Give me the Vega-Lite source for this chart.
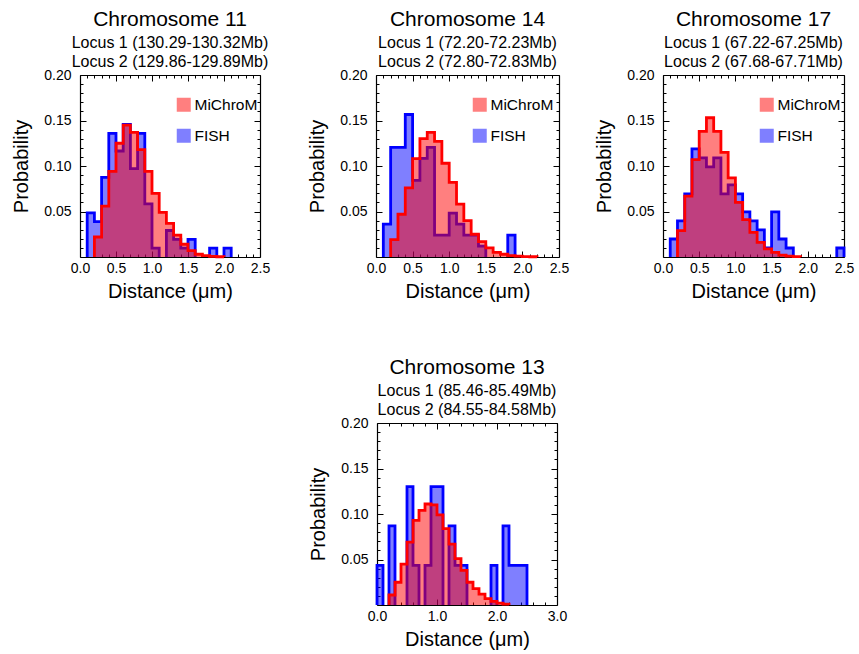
{
  "$schema": "https://vega.github.io/schema/vega-lite/v6.json",
  "padding": {"left": 11, "top": 9, "right": 5, "bottom": 5},
  "background": "white",
  "config": {
    "view": {"stroke": null},
    "font": "Liberation Sans",
    "axis": {
      "grid": false, "domainColor": "#000", "domainWidth": 1.2, "tickColor": "#000", "tickWidth": 1,
      "labelFont": "Liberation Sans", "labelFontSize": 14, "labelColor": "#000", "labelFlush": false, "labelOverlap": false,
      "titleFont": "Liberation Sans", "titleFontSize": 20, "titleFontWeight": "normal", "titleColor": "#000", "zindex": 1
    },
    "axisBottom": {"tickSize": -6, "labelPadding": 10, "titlePadding": 6},
    "axisLeft": {"tickSize": -6, "labelPadding": 15, "titlePadding": 12},
    "axisTop": {"tickSize": -6, "labels": false},
    "axisRight": {"tickSize": -6, "labels": false},
    "legend": {
      "orient": "none", "legendX": 96, "legendY": 22, "title": null, "padding": 0,
      "symbolType": "square", "symbolSize": 196, "symbolOpacity": 0.5, "symbolStrokeWidth": 0,
      "labelFont": "Liberation Sans", "labelFontSize": 15.5, "labelColor": "#000", "labelOffset": 3, "rowPadding": 14
    },
    "title": {
      "font": "Liberation Sans", "fontSize": 21, "fontWeight": "normal", "color": "#000",
      "subtitleFont": "Liberation Sans", "subtitleFontSize": 16, "subtitleColor": "#000",
      "subtitleLineHeight": 19, "subtitlePadding": 5, "offset": -2, "anchor": "middle", "frame": "group"
    }
  },
  "datasets": {
    "chr11": [
      {"s": "FISH", "g": 1, "x": 0.1, "p": 0}, {"s": "FISH", "g": 1, "x": 0.1, "p": 0.0485}, {"s": "FISH", "g": 1, "x": 0.2, "p": 0.0388},
      {"s": "FISH", "g": 1, "x": 0.3, "p": 0.0874}, {"s": "FISH", "g": 1, "x": 0.4, "p": 0.1359}, {"s": "FISH", "g": 1, "x": 0.5, "p": 0.1165},
      {"s": "FISH", "g": 1, "x": 0.6, "p": 0.1456}, {"s": "FISH", "g": 1, "x": 0.7, "p": 0.0971}, {"s": "FISH", "g": 1, "x": 0.8, "p": 0.1359},
      {"s": "FISH", "g": 1, "x": 0.9, "p": 0.0583}, {"s": "FISH", "g": 1, "x": 1.0, "p": 0.0097}, {"s": "FISH", "g": 1, "x": 1.1, "p": 0},
      {"s": "FISH", "g": 2, "x": 1.2, "p": 0}, {"s": "FISH", "g": 2, "x": 1.2, "p": 0.0291}, {"s": "FISH", "g": 2, "x": 1.3, "p": 0.0194},
      {"s": "FISH", "g": 2, "x": 1.4, "p": 0.0097}, {"s": "FISH", "g": 2, "x": 1.5, "p": 0.0194}, {"s": "FISH", "g": 2, "x": 1.6, "p": 0},
      {"s": "FISH", "g": 3, "x": 1.8, "p": 0}, {"s": "FISH", "g": 3, "x": 1.8, "p": 0.0097}, {"s": "FISH", "g": 3, "x": 1.9, "p": 0},
      {"s": "FISH", "g": 4, "x": 2.0, "p": 0}, {"s": "FISH", "g": 4, "x": 2.0, "p": 0.0097}, {"s": "FISH", "g": 4, "x": 2.1, "p": 0},
      {"s": "MiChroM", "g": 1, "x": 0.2, "p": 0}, {"s": "MiChroM", "g": 1, "x": 0.2, "p": 0.022}, {"s": "MiChroM", "g": 1, "x": 0.3, "p": 0.056},
      {"s": "MiChroM", "g": 1, "x": 0.4, "p": 0.094}, {"s": "MiChroM", "g": 1, "x": 0.5, "p": 0.125}, {"s": "MiChroM", "g": 1, "x": 0.6, "p": 0.145},
      {"s": "MiChroM", "g": 1, "x": 0.7, "p": 0.137}, {"s": "MiChroM", "g": 1, "x": 0.8, "p": 0.118}, {"s": "MiChroM", "g": 1, "x": 0.9, "p": 0.094},
      {"s": "MiChroM", "g": 1, "x": 1.0, "p": 0.070}, {"s": "MiChroM", "g": 1, "x": 1.1, "p": 0.049}, {"s": "MiChroM", "g": 1, "x": 1.2, "p": 0.037},
      {"s": "MiChroM", "g": 1, "x": 1.3, "p": 0.024}, {"s": "MiChroM", "g": 1, "x": 1.4, "p": 0.014}, {"s": "MiChroM", "g": 1, "x": 1.5, "p": 0.007},
      {"s": "MiChroM", "g": 1, "x": 1.6, "p": 0.003}, {"s": "MiChroM", "g": 1, "x": 1.7, "p": 0.0015}, {"s": "MiChroM", "g": 1, "x": 1.8, "p": 0.0006},
      {"s": "MiChroM", "g": 1, "x": 1.9, "p": 0.0003}, {"s": "MiChroM", "g": 1, "x": 2.0, "p": 0}
    ],
    "chr14": [
      {"s": "FISH", "g": 1, "x": 0.1, "p": 0}, {"s": "FISH", "g": 1, "x": 0.1, "p": 0.0361}, {"s": "FISH", "g": 1, "x": 0.2, "p": 0.1205},
      {"s": "FISH", "g": 1, "x": 0.3, "p": 0.1205}, {"s": "FISH", "g": 1, "x": 0.4, "p": 0.1566}, {"s": "FISH", "g": 1, "x": 0.5, "p": 0.0843},
      {"s": "FISH", "g": 1, "x": 0.6, "p": 0.1084}, {"s": "FISH", "g": 1, "x": 0.7, "p": 0.1205}, {"s": "FISH", "g": 1, "x": 0.8, "p": 0.0241},
      {"s": "FISH", "g": 1, "x": 0.9, "p": 0.0241}, {"s": "FISH", "g": 1, "x": 1.0, "p": 0.0482}, {"s": "FISH", "g": 1, "x": 1.1, "p": 0.0361},
      {"s": "FISH", "g": 1, "x": 1.2, "p": 0.0241}, {"s": "FISH", "g": 1, "x": 1.3, "p": 0.0241}, {"s": "FISH", "g": 1, "x": 1.4, "p": 0.0120},
      {"s": "FISH", "g": 1, "x": 1.5, "p": 0},
      {"s": "FISH", "g": 2, "x": 1.8, "p": 0}, {"s": "FISH", "g": 2, "x": 1.8, "p": 0.0241}, {"s": "FISH", "g": 2, "x": 1.9, "p": 0},
      {"s": "MiChroM", "g": 1, "x": 0.2, "p": 0}, {"s": "MiChroM", "g": 1, "x": 0.2, "p": 0.019}, {"s": "MiChroM", "g": 1, "x": 0.3, "p": 0.047},
      {"s": "MiChroM", "g": 1, "x": 0.4, "p": 0.076}, {"s": "MiChroM", "g": 1, "x": 0.5, "p": 0.108}, {"s": "MiChroM", "g": 1, "x": 0.6, "p": 0.130},
      {"s": "MiChroM", "g": 1, "x": 0.7, "p": 0.137}, {"s": "MiChroM", "g": 1, "x": 0.8, "p": 0.127}, {"s": "MiChroM", "g": 1, "x": 0.9, "p": 0.103},
      {"s": "MiChroM", "g": 1, "x": 1.0, "p": 0.082}, {"s": "MiChroM", "g": 1, "x": 1.1, "p": 0.058}, {"s": "MiChroM", "g": 1, "x": 1.2, "p": 0.040},
      {"s": "MiChroM", "g": 1, "x": 1.3, "p": 0.025}, {"s": "MiChroM", "g": 1, "x": 1.4, "p": 0.017}, {"s": "MiChroM", "g": 1, "x": 1.5, "p": 0.010},
      {"s": "MiChroM", "g": 1, "x": 1.6, "p": 0.005}, {"s": "MiChroM", "g": 1, "x": 1.7, "p": 0.003}, {"s": "MiChroM", "g": 1, "x": 1.8, "p": 0.0015},
      {"s": "MiChroM", "g": 1, "x": 1.9, "p": 0.001}, {"s": "MiChroM", "g": 1, "x": 2.0, "p": 0.0005}, {"s": "MiChroM", "g": 1, "x": 2.1, "p": 0.0003},
      {"s": "MiChroM", "g": 1, "x": 2.2, "p": 0}
    ],
    "chr17": [
      {"s": "FISH", "g": 1, "x": 0.1, "p": 0}, {"s": "FISH", "g": 1, "x": 0.1, "p": 0.0198}, {"s": "FISH", "g": 1, "x": 0.2, "p": 0.0396},
      {"s": "FISH", "g": 1, "x": 0.3, "p": 0.0693}, {"s": "FISH", "g": 1, "x": 0.4, "p": 0.1188}, {"s": "FISH", "g": 1, "x": 0.5, "p": 0.1089},
      {"s": "FISH", "g": 1, "x": 0.6, "p": 0.0990}, {"s": "FISH", "g": 1, "x": 0.7, "p": 0.1089}, {"s": "FISH", "g": 1, "x": 0.8, "p": 0.0693},
      {"s": "FISH", "g": 1, "x": 0.9, "p": 0.0792}, {"s": "FISH", "g": 1, "x": 1.0, "p": 0.0693}, {"s": "FISH", "g": 1, "x": 1.1, "p": 0.0495},
      {"s": "FISH", "g": 1, "x": 1.2, "p": 0.0396}, {"s": "FISH", "g": 1, "x": 1.3, "p": 0.0297}, {"s": "FISH", "g": 1, "x": 1.4, "p": 0.0099},
      {"s": "FISH", "g": 1, "x": 1.5, "p": 0.0495}, {"s": "FISH", "g": 1, "x": 1.6, "p": 0.0198}, {"s": "FISH", "g": 1, "x": 1.7, "p": 0.0099},
      {"s": "FISH", "g": 1, "x": 1.8, "p": 0},
      {"s": "FISH", "g": 2, "x": 2.4, "p": 0}, {"s": "FISH", "g": 2, "x": 2.4, "p": 0.0099}, {"s": "FISH", "g": 2, "x": 2.5, "p": 0},
      {"s": "MiChroM", "g": 1, "x": 0.2, "p": 0}, {"s": "MiChroM", "g": 1, "x": 0.2, "p": 0.029}, {"s": "MiChroM", "g": 1, "x": 0.3, "p": 0.067},
      {"s": "MiChroM", "g": 1, "x": 0.4, "p": 0.107}, {"s": "MiChroM", "g": 1, "x": 0.5, "p": 0.138}, {"s": "MiChroM", "g": 1, "x": 0.6, "p": 0.153},
      {"s": "MiChroM", "g": 1, "x": 0.7, "p": 0.138}, {"s": "MiChroM", "g": 1, "x": 0.8, "p": 0.115}, {"s": "MiChroM", "g": 1, "x": 0.9, "p": 0.087},
      {"s": "MiChroM", "g": 1, "x": 1.0, "p": 0.060}, {"s": "MiChroM", "g": 1, "x": 1.1, "p": 0.041}, {"s": "MiChroM", "g": 1, "x": 1.2, "p": 0.027},
      {"s": "MiChroM", "g": 1, "x": 1.3, "p": 0.016}, {"s": "MiChroM", "g": 1, "x": 1.4, "p": 0.009}, {"s": "MiChroM", "g": 1, "x": 1.5, "p": 0.005},
      {"s": "MiChroM", "g": 1, "x": 1.6, "p": 0.002}, {"s": "MiChroM", "g": 1, "x": 1.7, "p": 0.001}, {"s": "MiChroM", "g": 1, "x": 1.8, "p": 0.0005},
      {"s": "MiChroM", "g": 1, "x": 1.9, "p": 0}
    ],
    "chr13": [
      {"s": "FISH", "g": 1, "x": 0.0, "p": 0}, {"s": "FISH", "g": 1, "x": 0.0, "p": 0.0435}, {"s": "FISH", "g": 1, "x": 0.1, "p": 0},
      {"s": "FISH", "g": 2, "x": 0.2, "p": 0}, {"s": "FISH", "g": 2, "x": 0.2, "p": 0.087}, {"s": "FISH", "g": 2, "x": 0.3, "p": 0},
      {"s": "FISH", "g": 3, "x": 0.5, "p": 0}, {"s": "FISH", "g": 3, "x": 0.5, "p": 0.130}, {"s": "FISH", "g": 3, "x": 0.6, "p": 0.0435}, {"s": "FISH", "g": 3, "x": 0.7, "p": 0},
      {"s": "FISH", "g": 4, "x": 0.8, "p": 0}, {"s": "FISH", "g": 4, "x": 0.8, "p": 0.0435}, {"s": "FISH", "g": 4, "x": 0.9, "p": 0.130},
      {"s": "FISH", "g": 4, "x": 1.0, "p": 0.130}, {"s": "FISH", "g": 4, "x": 1.1, "p": 0},
      {"s": "FISH", "g": 5, "x": 1.2, "p": 0}, {"s": "FISH", "g": 5, "x": 1.2, "p": 0.087}, {"s": "FISH", "g": 5, "x": 1.3, "p": 0.0435},
      {"s": "FISH", "g": 5, "x": 1.4, "p": 0.0435}, {"s": "FISH", "g": 5, "x": 1.5, "p": 0},
      {"s": "FISH", "g": 6, "x": 1.9, "p": 0}, {"s": "FISH", "g": 6, "x": 1.9, "p": 0.0435}, {"s": "FISH", "g": 6, "x": 2.0, "p": 0},
      {"s": "FISH", "g": 7, "x": 2.1, "p": 0}, {"s": "FISH", "g": 7, "x": 2.1, "p": 0.087}, {"s": "FISH", "g": 7, "x": 2.2, "p": 0.0435},
      {"s": "FISH", "g": 7, "x": 2.3, "p": 0.0435}, {"s": "FISH", "g": 7, "x": 2.4, "p": 0.0435}, {"s": "FISH", "g": 7, "x": 2.5, "p": 0},
      {"s": "MiChroM", "g": 1, "x": 0.2, "p": 0}, {"s": "MiChroM", "g": 1, "x": 0.2, "p": 0.011}, {"s": "MiChroM", "g": 1, "x": 0.3, "p": 0.025},
      {"s": "MiChroM", "g": 1, "x": 0.4, "p": 0.045}, {"s": "MiChroM", "g": 1, "x": 0.5, "p": 0.069}, {"s": "MiChroM", "g": 1, "x": 0.6, "p": 0.093},
      {"s": "MiChroM", "g": 1, "x": 0.7, "p": 0.104}, {"s": "MiChroM", "g": 1, "x": 0.8, "p": 0.111}, {"s": "MiChroM", "g": 1, "x": 0.9, "p": 0.110},
      {"s": "MiChroM", "g": 1, "x": 1.0, "p": 0.099}, {"s": "MiChroM", "g": 1, "x": 1.1, "p": 0.084}, {"s": "MiChroM", "g": 1, "x": 1.2, "p": 0.067},
      {"s": "MiChroM", "g": 1, "x": 1.3, "p": 0.051}, {"s": "MiChroM", "g": 1, "x": 1.4, "p": 0.038}, {"s": "MiChroM", "g": 1, "x": 1.5, "p": 0.025},
      {"s": "MiChroM", "g": 1, "x": 1.6, "p": 0.018}, {"s": "MiChroM", "g": 1, "x": 1.7, "p": 0.012}, {"s": "MiChroM", "g": 1, "x": 1.8, "p": 0.007},
      {"s": "MiChroM", "g": 1, "x": 1.9, "p": 0.004}, {"s": "MiChroM", "g": 1, "x": 2.0, "p": 0.002}, {"s": "MiChroM", "g": 1, "x": 2.1, "p": 0.001},
      {"s": "MiChroM", "g": 1, "x": 2.2, "p": 0}
    ]
  },
  "vconcat": [
    {
      "hconcat": [
        {
          "width": 180, "height": 182,
          "title": {"text": "Chromosome 11", "subtitle": ["Locus 1 (130.29-130.32Mb)", "Locus 2 (129.86-129.89Mb)"]},
          "data": {"name": "chr11"},
          "layer": [
            {"transform": [{"filter": "datum.s === 'FISH'"}],
             "mark": {"type": "area", "interpolate": "step-after", "fillOpacity": 0.5},
             "encoding": {
               "x": {"field": "x", "type": "quantitative", "scale": {"domain": [0, 2.5], "nice": false}, "axis": {"orient": "bottom", "values": [0, 0.5, 1, 1.5, 2, 2.5], "format": ".1f", "title": "Distance (μm)"}},
               "y": {"field": "p", "type": "quantitative", "stack": null, "scale": {"domain": [0, 0.2], "nice": false}, "axis": {"orient": "left", "values": [0.05, 0.1, 0.15, 0.2], "format": ".2f", "title": "Probability"}},
               "color": {"field": "s", "type": "nominal", "scale": {"domain": ["MiChroM", "FISH"], "range": ["#ff0000", "#0000ff"]}},
               "detail": {"field": "g"}}},
            {"transform": [{"filter": "datum.s === 'FISH'"}],
             "mark": {"type": "line", "interpolate": "step-after", "color": "#0000ff", "strokeWidth": 2.8, "strokeJoin": "miter"},
             "encoding": {
               "x": {"field": "x", "type": "quantitative", "axis": {"orient": "top", "values": [0, 0.5, 1, 1.5, 2, 2.5], "title": null}},
               "y": {"field": "p", "type": "quantitative", "axis": {"orient": "right", "values": [0.05, 0.1, 0.15, 0.2], "title": null}},
               "detail": {"field": "g"}, "order": {"value": null}}},
            {"transform": [{"filter": "datum.s === 'MiChroM'"}],
             "mark": {"type": "area", "interpolate": "step-after", "fillOpacity": 0.5},
             "encoding": {
               "x": {"field": "x", "type": "quantitative", "axis": {"orient": "bottom", "values": [0.1, 0.2, 0.3, 0.4, 0.6, 0.7, 0.8, 0.9, 1.1, 1.2, 1.3, 1.4, 1.6, 1.7, 1.8, 1.9, 2.1, 2.2, 2.3, 2.4], "tickSize": -3, "labels": false, "domain": false, "title": null}},
               "y": {"field": "p", "type": "quantitative", "stack": null, "axis": {"orient": "left", "values": [0.01, 0.02, 0.03, 0.04, 0.06, 0.07, 0.08, 0.09, 0.11, 0.12, 0.13, 0.14, 0.16, 0.17, 0.18, 0.19], "tickSize": -3, "labels": false, "domain": false, "title": null}},
               "color": {"field": "s", "type": "nominal"},
               "detail": {"field": "g"}}},
            {"transform": [{"filter": "datum.s === 'MiChroM'"}],
             "mark": {"type": "line", "interpolate": "step-after", "color": "#ff0000", "strokeWidth": 2.8, "strokeJoin": "miter"},
             "encoding": {
               "x": {"field": "x", "type": "quantitative", "axis": {"orient": "top", "values": [0.1, 0.2, 0.3, 0.4, 0.6, 0.7, 0.8, 0.9, 1.1, 1.2, 1.3, 1.4, 1.6, 1.7, 1.8, 1.9, 2.1, 2.2, 2.3, 2.4], "tickSize": -3, "domain": false, "title": null}},
               "y": {"field": "p", "type": "quantitative", "axis": {"orient": "right", "values": [0.01, 0.02, 0.03, 0.04, 0.06, 0.07, 0.08, 0.09, 0.11, 0.12, 0.13, 0.14, 0.16, 0.17, 0.18, 0.19], "tickSize": -3, "domain": false, "title": null}},
               "detail": {"field": "g"}, "order": {"value": null}}}
          ],
          "resolve": {"axis": {"x": "independent", "y": "independent"}}
        },
        {
          "hconcat": [
            {
              "width": 183, "height": 182,
              "title": {"text": "Chromosome 14", "subtitle": ["Locus 1 (72.20-72.23Mb)", "Locus 2 (72.80-72.83Mb)"]},
              "data": {"name": "chr14"},
              "layer": [
                {"transform": [{"filter": "datum.s === 'FISH'"}],
                 "mark": {"type": "area", "interpolate": "step-after", "fillOpacity": 0.5},
                 "encoding": {
                   "x": {"field": "x", "type": "quantitative", "scale": {"domain": [0, 2.5], "nice": false}, "axis": {"orient": "bottom", "values": [0, 0.5, 1, 1.5, 2, 2.5], "format": ".1f", "title": "Distance (μm)"}},
                   "y": {"field": "p", "type": "quantitative", "stack": null, "scale": {"domain": [0, 0.2], "nice": false}, "axis": {"orient": "left", "values": [0.05, 0.1, 0.15, 0.2], "format": ".2f", "title": "Probability"}},
                   "color": {"field": "s", "type": "nominal", "scale": {"domain": ["MiChroM", "FISH"], "range": ["#ff0000", "#0000ff"]}},
                   "detail": {"field": "g"}}},
                {"transform": [{"filter": "datum.s === 'FISH'"}],
                 "mark": {"type": "line", "interpolate": "step-after", "color": "#0000ff", "strokeWidth": 2.8, "strokeJoin": "miter"},
                 "encoding": {
                   "x": {"field": "x", "type": "quantitative", "axis": {"orient": "top", "values": [0, 0.5, 1, 1.5, 2, 2.5], "title": null}},
                   "y": {"field": "p", "type": "quantitative", "axis": {"orient": "right", "values": [0.05, 0.1, 0.15, 0.2], "title": null}},
                   "detail": {"field": "g"}, "order": {"value": null}}},
                {"transform": [{"filter": "datum.s === 'MiChroM'"}],
                 "mark": {"type": "area", "interpolate": "step-after", "fillOpacity": 0.5},
                 "encoding": {
                   "x": {"field": "x", "type": "quantitative", "axis": {"orient": "bottom", "values": [0.1, 0.2, 0.3, 0.4, 0.6, 0.7, 0.8, 0.9, 1.1, 1.2, 1.3, 1.4, 1.6, 1.7, 1.8, 1.9, 2.1, 2.2, 2.3, 2.4], "tickSize": -3, "labels": false, "domain": false, "title": null}},
                   "y": {"field": "p", "type": "quantitative", "stack": null, "axis": {"orient": "left", "values": [0.01, 0.02, 0.03, 0.04, 0.06, 0.07, 0.08, 0.09, 0.11, 0.12, 0.13, 0.14, 0.16, 0.17, 0.18, 0.19], "tickSize": -3, "labels": false, "domain": false, "title": null}},
                   "color": {"field": "s", "type": "nominal"},
                   "detail": {"field": "g"}}},
                {"transform": [{"filter": "datum.s === 'MiChroM'"}],
                 "mark": {"type": "line", "interpolate": "step-after", "color": "#ff0000", "strokeWidth": 2.8, "strokeJoin": "miter"},
                 "encoding": {
                   "x": {"field": "x", "type": "quantitative", "axis": {"orient": "top", "values": [0.1, 0.2, 0.3, 0.4, 0.6, 0.7, 0.8, 0.9, 1.1, 1.2, 1.3, 1.4, 1.6, 1.7, 1.8, 1.9, 2.1, 2.2, 2.3, 2.4], "tickSize": -3, "domain": false, "title": null}},
                   "y": {"field": "p", "type": "quantitative", "axis": {"orient": "right", "values": [0.01, 0.02, 0.03, 0.04, 0.06, 0.07, 0.08, 0.09, 0.11, 0.12, 0.13, 0.14, 0.16, 0.17, 0.18, 0.19], "tickSize": -3, "domain": false, "title": null}},
                   "detail": {"field": "g"}, "order": {"value": null}}}
              ],
              "resolve": {"axis": {"x": "independent", "y": "independent"}}
            },
            {
              "width": 181, "height": 182,
              "title": {"text": "Chromosome 17", "subtitle": ["Locus 1 (67.22-67.25Mb)", "Locus 2 (67.68-67.71Mb)"]},
              "data": {"name": "chr17"},
              "layer": [
                {"transform": [{"filter": "datum.s === 'FISH'"}],
                 "mark": {"type": "area", "interpolate": "step-after", "fillOpacity": 0.5},
                 "encoding": {
                   "x": {"field": "x", "type": "quantitative", "scale": {"domain": [0, 2.5], "nice": false}, "axis": {"orient": "bottom", "values": [0, 0.5, 1, 1.5, 2, 2.5], "format": ".1f", "title": "Distance (μm)"}},
                   "y": {"field": "p", "type": "quantitative", "stack": null, "scale": {"domain": [0, 0.2], "nice": false}, "axis": {"orient": "left", "values": [0.05, 0.1, 0.15, 0.2], "format": ".2f", "title": "Probability"}},
                   "color": {"field": "s", "type": "nominal", "scale": {"domain": ["MiChroM", "FISH"], "range": ["#ff0000", "#0000ff"]}},
                   "detail": {"field": "g"}}},
                {"transform": [{"filter": "datum.s === 'FISH'"}],
                 "mark": {"type": "line", "interpolate": "step-after", "color": "#0000ff", "strokeWidth": 2.8, "strokeJoin": "miter"},
                 "encoding": {
                   "x": {"field": "x", "type": "quantitative", "axis": {"orient": "top", "values": [0, 0.5, 1, 1.5, 2, 2.5], "title": null}},
                   "y": {"field": "p", "type": "quantitative", "axis": {"orient": "right", "values": [0.05, 0.1, 0.15, 0.2], "title": null}},
                   "detail": {"field": "g"}, "order": {"value": null}}},
                {"transform": [{"filter": "datum.s === 'MiChroM'"}],
                 "mark": {"type": "area", "interpolate": "step-after", "fillOpacity": 0.5},
                 "encoding": {
                   "x": {"field": "x", "type": "quantitative", "axis": {"orient": "bottom", "values": [0.1, 0.2, 0.3, 0.4, 0.6, 0.7, 0.8, 0.9, 1.1, 1.2, 1.3, 1.4, 1.6, 1.7, 1.8, 1.9, 2.1, 2.2, 2.3, 2.4], "tickSize": -3, "labels": false, "domain": false, "title": null}},
                   "y": {"field": "p", "type": "quantitative", "stack": null, "axis": {"orient": "left", "values": [0.01, 0.02, 0.03, 0.04, 0.06, 0.07, 0.08, 0.09, 0.11, 0.12, 0.13, 0.14, 0.16, 0.17, 0.18, 0.19], "tickSize": -3, "labels": false, "domain": false, "title": null}},
                   "color": {"field": "s", "type": "nominal"},
                   "detail": {"field": "g"}}},
                {"transform": [{"filter": "datum.s === 'MiChroM'"}],
                 "mark": {"type": "line", "interpolate": "step-after", "color": "#ff0000", "strokeWidth": 2.8, "strokeJoin": "miter"},
                 "encoding": {
                   "x": {"field": "x", "type": "quantitative", "axis": {"orient": "top", "values": [0.1, 0.2, 0.3, 0.4, 0.6, 0.7, 0.8, 0.9, 1.1, 1.2, 1.3, 1.4, 1.6, 1.7, 1.8, 1.9, 2.1, 2.2, 2.3, 2.4], "tickSize": -3, "domain": false, "title": null}},
                   "y": {"field": "p", "type": "quantitative", "axis": {"orient": "right", "values": [0.01, 0.02, 0.03, 0.04, 0.06, 0.07, 0.08, 0.09, 0.11, 0.12, 0.13, 0.14, 0.16, 0.17, 0.18, 0.19], "tickSize": -3, "domain": false, "title": null}},
                   "detail": {"field": "g"}, "order": {"value": null}}}
              ],
              "resolve": {"axis": {"x": "independent", "y": "independent"}}
            }
          ],
          "spacing": 25,
          "resolve": {"scale": {"color": "independent"}, "legend": {"color": "independent"}}
        }
      ],
      "spacing": 37,
      "resolve": {"scale": {"color": "independent"}, "legend": {"color": "independent"}}
    },
    {
      "hconcat": [
        {
          "width": 228, "height": 1,
          "data": {"values": [{}]},
          "mark": {"type": "point", "opacity": 0}
        },
        {
          "width": 180, "height": 182,
          "title": {"text": "Chromosome 13", "subtitle": ["Locus 1 (85.46-85.49Mb)", "Locus 2 (84.55-84.58Mb)"]},
          "data": {"name": "chr13"},
          "layer": [
            {"transform": [{"filter": "datum.s === 'FISH'"}],
             "mark": {"type": "area", "interpolate": "step-after", "fillOpacity": 0.5},
             "encoding": {
               "x": {"field": "x", "type": "quantitative", "scale": {"domain": [0, 3], "nice": false}, "axis": {"orient": "bottom", "values": [0, 1, 2, 3], "format": ".1f", "title": "Distance (μm)"}},
               "y": {"field": "p", "type": "quantitative", "stack": null, "scale": {"domain": [0, 0.2], "nice": false}, "axis": {"orient": "left", "values": [0.05, 0.1, 0.15, 0.2], "format": ".2f", "title": "Probability"}},
               "color": {"field": "s", "type": "nominal", "scale": {"domain": ["MiChroM", "FISH"], "range": ["#ff0000", "#0000ff"]}, "legend": null},
               "detail": {"field": "g"}}},
            {"transform": [{"filter": "datum.s === 'FISH'"}],
             "mark": {"type": "line", "interpolate": "step-after", "color": "#0000ff", "strokeWidth": 2.8, "strokeJoin": "miter"},
             "encoding": {
               "x": {"field": "x", "type": "quantitative", "axis": {"orient": "top", "values": [0, 1, 2, 3], "title": null}},
               "y": {"field": "p", "type": "quantitative", "axis": {"orient": "right", "values": [0.05, 0.1, 0.15, 0.2], "title": null}},
               "detail": {"field": "g"}, "order": {"value": null}}},
            {"transform": [{"filter": "datum.s === 'MiChroM'"}],
             "mark": {"type": "area", "interpolate": "step-after", "fillOpacity": 0.5},
             "encoding": {
               "x": {"field": "x", "type": "quantitative", "axis": {"orient": "bottom", "values": [0.2, 0.4, 0.6, 0.8, 1.2, 1.4, 1.6, 1.8, 2.2, 2.4, 2.6, 2.8], "tickSize": -3, "labels": false, "domain": false, "title": null}},
               "y": {"field": "p", "type": "quantitative", "stack": null, "axis": {"orient": "left", "values": [0.01, 0.02, 0.03, 0.04, 0.06, 0.07, 0.08, 0.09, 0.11, 0.12, 0.13, 0.14, 0.16, 0.17, 0.18, 0.19], "tickSize": -3, "labels": false, "domain": false, "title": null}},
               "color": {"field": "s", "type": "nominal", "legend": null},
               "detail": {"field": "g"}}},
            {"transform": [{"filter": "datum.s === 'MiChroM'"}],
             "mark": {"type": "line", "interpolate": "step-after", "color": "#ff0000", "strokeWidth": 2.8, "strokeJoin": "miter"},
             "encoding": {
               "x": {"field": "x", "type": "quantitative", "axis": {"orient": "top", "values": [0.2, 0.4, 0.6, 0.8, 1.2, 1.4, 1.6, 1.8, 2.2, 2.4, 2.6, 2.8], "tickSize": -3, "domain": false, "title": null}},
               "y": {"field": "p", "type": "quantitative", "axis": {"orient": "right", "values": [0.01, 0.02, 0.03, 0.04, 0.06, 0.07, 0.08, 0.09, 0.11, 0.12, 0.13, 0.14, 0.16, 0.17, 0.18, 0.19], "tickSize": -3, "domain": false, "title": null}},
               "detail": {"field": "g"}, "order": {"value": null}}}
          ],
          "resolve": {"axis": {"x": "independent", "y": "independent"}}
        }
      ],
      "spacing": 0,
      "resolve": {"scale": {"color": "independent"}, "legend": {"color": "independent"}}
    }
  ],
  "spacing": 56,
  "resolve": {"scale": {"color": "independent"}, "legend": {"color": "independent"}}
}
